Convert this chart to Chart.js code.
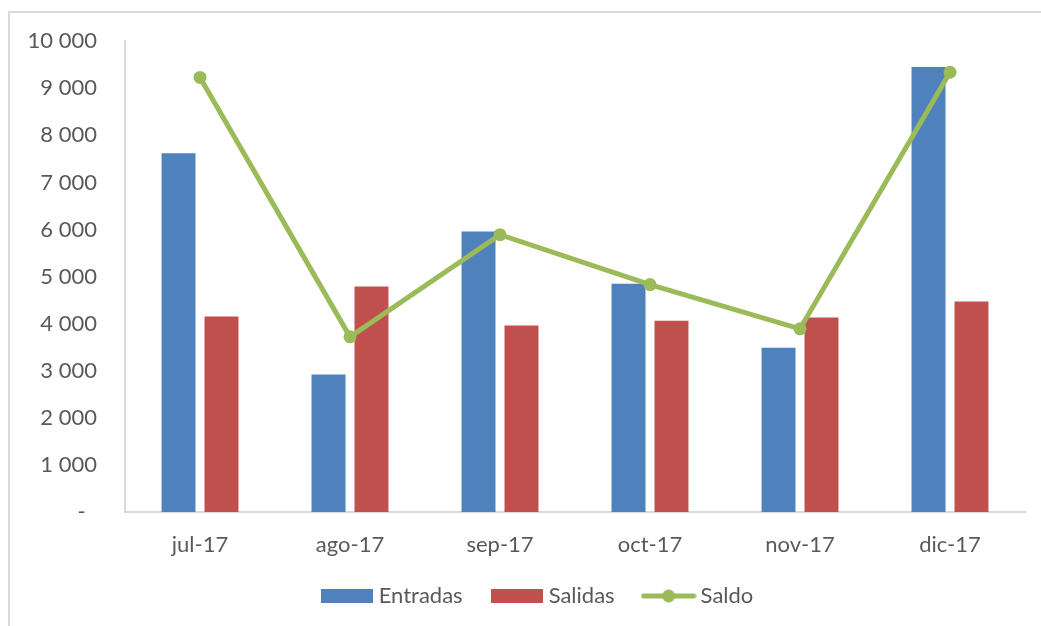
<!DOCTYPE html>
<html>
<head>
<meta charset="utf-8">
<script src="https://cdn.jsdelivr.net/npm/chart.js@4.4.1/dist/chart.umd.min.js"></script>
<style>
    body { margin: 0; background: #fff; }
    #wrap { position: relative; width: 1041px; height: 626px; overflow: hidden; }
    #frame { position: absolute; left: 8px; top: 11px; width: 1100px; height: 700px; border: 2px solid #d9d9d9; }
    canvas { position: absolute; left: 0; top: 0; }
</style>
</head>
<body>
<div id="wrap">
    <div id="frame"></div>
    <canvas id="grafico" width="1041" height="626"></canvas>
</div>
<script>
const meses    = ['jul-17', 'ago-17', 'sep-17', 'oct-17', 'nov-17', 'dic-17'];
const entradas = [7620, 2920, 5960, 4850, 3490, 9450];
const salidas  = [4150, 4790, 3960, 4060, 4130, 4470];
const saldo    = [9230, 3720, 5890, 4830, 3890, 9340];
const yMax  = 10000;
const yStep = 1000;

const AZUL  = '#4f81bd';
const ROJO  = '#c0504d';
const VERDE = '#9bbb59';
const GRIS  = '#595959';
const FUENTE = 'Lato';

function iconRect(color) {
    const c = document.createElement('canvas');
    c.width = 52; c.height = 14;
    const ctx = c.getContext('2d');
    ctx.fillStyle = color;
    ctx.fillRect(0, 0, 52, 14);
    return c;
}

function iconLinea(color) {
    const c = document.createElement('canvas');
    c.width = 56; c.height = 14;
    const ctx = c.getContext('2d');
    ctx.strokeStyle = color;
    ctx.lineWidth = 5;
    ctx.lineCap = 'round';
    ctx.beginPath();
    ctx.moveTo(3, 7); ctx.lineTo(53, 7);
    ctx.stroke();
    ctx.fillStyle = color;
    ctx.beginPath();
    ctx.arc(28, 7, 6.5, 0, Math.PI * 2);
    ctx.fill();
    return c;
}

function fmtMiles(v) {
    if (v === 0) return '-  ';
    return String(v).replace(/\B(?=(\d{3})+(?!\d))/g, ' ');
}

// la leyenda de Excel va un poco a la derecha del centro y algo más arriba
const moverLeyenda = {
    id: 'moverLeyenda',
    afterLayout(chart) {
        const lg = chart.legend;
        lg.left += 27;
        lg.right += 27;
        lg.top -= 6;
        lg.bottom -= 6;
    }
};

new Chart(document.getElementById('grafico'), {
    data: {
        labels: meses,
        datasets: [
            {
                type: 'line',
                label: 'Saldo',
                data: saldo,
                borderColor: VERDE,
                backgroundColor: VERDE,
                borderWidth: 5,
                pointRadius: 6.5,
                pointBackgroundColor: VERDE,
                pointBorderWidth: 0,
                tension: 0,
                order: 0
            },
            {
                type: 'bar',
                label: 'Entradas',
                data: entradas,
                backgroundColor: AZUL,
                categoryPercentage: 0.573,
                barPercentage: 0.79,
                order: 1
            },
            {
                type: 'bar',
                label: 'Salidas',
                data: salidas,
                backgroundColor: ROJO,
                categoryPercentage: 0.573,
                barPercentage: 0.79,
                order: 1
            }
        ]
    },

    options: {
        responsive: false,
        animation: false,
        layout: { padding: { top: 41, right: 16, left: 0, bottom: 3 } },
        plugins: {
            tooltip: { enabled: false },
            legend: {
                position: 'bottom',
                labels: {
                    usePointStyle: true,
                    pointStyleWidth: 42,
                    color: GRIS,
                    padding: 33,
                    font: { family: FUENTE, size: 22 },
                    generateLabels: () => [
                        { text: 'Entradas', pointStyle: iconRect(AZUL), fillStyle: AZUL, lineWidth: 0, datasetIndex: 1, fontColor: GRIS },
                        { text: 'Salidas',  pointStyle: iconRect(ROJO), fillStyle: ROJO, lineWidth: 0, datasetIndex: 2, fontColor: GRIS },
                        { text: 'Saldo',    pointStyle: iconLinea(VERDE), fillStyle: VERDE, lineWidth: 0, datasetIndex: 0, fontColor: GRIS }
                    ]
                }
            }
        },
        scales: {
            x: {
                grid: { display: false, drawTicks: false },
                border: { color: '#d9d9d9', width: 2 },
                ticks: { color: GRIS, padding: 20, font: { family: FUENTE, size: 22 } },
                afterFit: s => { s.height = 46; }
            },
            y: {
                min: 0,
                max: yMax,
                grid: { display: false, drawTicks: false },
                border: { color: '#d9d9d9', width: 2 },
                ticks: {
                    stepSize: yStep,
                    color: GRIS,
                    padding: 28,
                    font: { family: FUENTE, size: 22 },
                    callback: v => fmtMiles(v)
                },
                afterFit: s => { s.width = 125; }
            }
        }
    },
    plugins: [moverLeyenda]
});
</script>
</body>
</html>
